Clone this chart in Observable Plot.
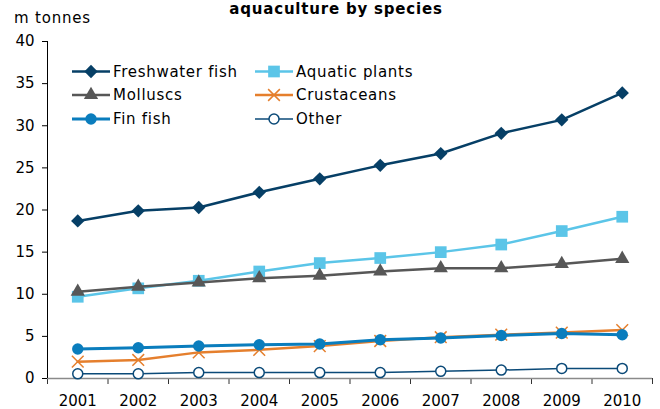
<!DOCTYPE html>
<html>
<head>
<meta charset="utf-8">
<script src="https://cdn.jsdelivr.net/npm/d3@7"></script>
<script src="https://cdn.jsdelivr.net/npm/@observablehq/plot@0.6"></script>
<style>
  html, body { margin: 0; padding: 0; background: #fff; }
  #chart svg { display: block; }
</style>
</head>
<body>
<div id="chart"></div>
<script>
// Aquaculture production by species, million tonnes
const years = [2001, 2002, 2003, 2004, 2005, 2006, 2007, 2008, 2009, 2010];
const freshwaterFish = [18.7, 19.9, 20.3, 22.1, 23.7, 25.3, 26.7, 29.1, 30.7, 33.9];
const aquaticPlants  = [9.7, 10.7, 11.6, 12.7, 13.7, 14.3, 15.0, 15.9, 17.5, 19.2];
const molluscs       = [10.3, 10.9, 11.4, 11.9, 12.2, 12.7, 13.1, 13.1, 13.6, 14.2];
const crustaceans    = [2.0, 2.2, 3.1, 3.4, 3.85, 4.45, 4.9, 5.2, 5.45, 5.75];
const finFish        = [3.5, 3.65, 3.85, 4.0, 4.1, 4.6, 4.8, 5.1, 5.35, 5.2];
const other          = [0.55, 0.55, 0.7, 0.7, 0.7, 0.7, 0.85, 1.0, 1.2, 1.2];

const yTicks = [0, 5, 10, 15, 20, 25, 30, 35, 40];
const title = "aquaculture by species";
const unitLabel = "m tonnes";

// series styling, in drawing order
const series = [
  {name: "Freshwater fish", values: freshwaterFish, color: "#063f66", symbol: "diamond2", r: 6.0, fill: "#063f66", width: 2.5},
  {name: "Aquatic plants",  values: aquaticPlants,  color: "#5bc5e8", symbol: "square",   r: 6.6, fill: "#5bc5e8", width: 2.5},
  {name: "Molluscs",        values: molluscs,       color: "#575757", symbol: "triangle", r: 5.3, fill: "#575757", width: 2.5},
  {name: "Crustaceans",     values: crustaceans,    color: "#e57f2d", symbol: "times",    r: 5.4, fill: "none",    width: 2.5},
  {name: "Fin fish",        values: finFish,        color: "#0a7dbd", symbol: "circle",   r: 5.7, fill: "#0a7dbd", width: 3},
  {name: "Other",           values: other,          color: "#0b4a78", symbol: "circle",   r: 5.0, fill: "#ffffff", width: 1.5}
];

const rows = s => years.map((year, i) => ({year, value: s.values[i]}));
const bounds = [years[0] - 0.5, ...years.map(y => y + 0.5)];
const outlined = s => s.symbol === "times" || s.fill === "#ffffff";

const seriesMarks = series.flatMap(s => [
  Plot.line(rows(s), {x: "year", y: "value", stroke: s.color, strokeWidth: s.width}),
  Plot.dot(rows(s), {
    x: "year", y: "value", symbol: s.symbol, r: s.r,
    fill: s.fill,
    stroke: outlined(s) ? s.color : "none",
    strokeWidth: 1.5
  })
]);

const chart = Plot.plot({
  width: 660,
  height: 409,
  marginLeft: 47,
  marginRight: 8,
  marginTop: 41,
  marginBottom: 31,
  style: {fontFamily: "DejaVu Sans, Verdana, sans-serif", fontSize: "15px", color: "#000", background: "#fff"},
  x: {domain: [bounds[0], bounds[bounds.length - 1]], label: null},
  y: {domain: [0, 40], label: null},
  marks: [
    Plot.axisY({ticks: yTicks, tickSize: 5, tickPadding: 8, tickFormat: d => String(d), stroke: "#000", label: null}),
    Plot.axisX({ticks: years, tickSize: 0, tickPadding: 17, tickFormat: d => String(d), label: null}),
    Plot.axisX({ticks: bounds, tickSize: 6, tickFormat: () => "", stroke: "#333", label: null}),
    Plot.ruleY([0], {stroke: "#8a8a8a", strokeWidth: 1.5}),
    Plot.ruleX([bounds[0]], {stroke: "#000", strokeWidth: 1}),
    ...seriesMarks
  ]
});

document.getElementById("chart").append(chart);

// title, unit label and legend drawn into the same SVG
const svg = d3.select(chart);
const font = "DejaVu Sans, Verdana, sans-serif";

svg.append("text")
  .attr("x", 336).attr("y", 14)
  .attr("text-anchor", "middle")
  .attr("font-family", font).attr("font-weight", "bold").attr("font-size", 15)
  .attr("letter-spacing", 0.8)
  .attr("fill", "#000")
  .text(title);

svg.append("text")
  .attr("x", 14).attr("y", 23)
  .attr("text-anchor", "start")
  .attr("font-family", font).attr("font-size", 15)
  .attr("letter-spacing", 0.8)
  .attr("fill", "#000")
  .text(unitLabel);

const symbolTypes = {
  diamond2: d3.symbolDiamond2, square: d3.symbolSquare, triangle: d3.symbolTriangle,
  times: d3.symbolTimes, circle: d3.symbolCircle
};
const legend = svg.append("g");
const colX = [72, 255];
const rowY = [71.5, 95, 119];
series.forEach((s, i) => {
  const x0 = colX[i % 2], y0 = rowY[Math.floor(i / 2)];
  const g = legend.append("g").attr("transform", `translate(${x0},${y0})`);
  g.append("line").attr("x1", 0).attr("x2", 38).attr("y1", 0).attr("y2", 0)
    .attr("stroke", s.color).attr("stroke-width", s.width);
  g.append("path")
    .attr("transform", "translate(19,0)")
    .attr("d", d3.symbol(symbolTypes[s.symbol], Math.PI * s.r * s.r)())
    .attr("fill", s.fill)
    .attr("stroke", outlined(s) ? s.color : "none")
    .attr("stroke-width", 1.5);
  g.append("text").attr("x", 41).attr("dy", "0.36em")
    .attr("text-anchor", "start")
    .attr("font-family", font).attr("font-size", 15)
    .attr("letter-spacing", 0.7)
    .attr("fill", "#000")
    .text(s.name);
});
</script>
</body>
</html>
